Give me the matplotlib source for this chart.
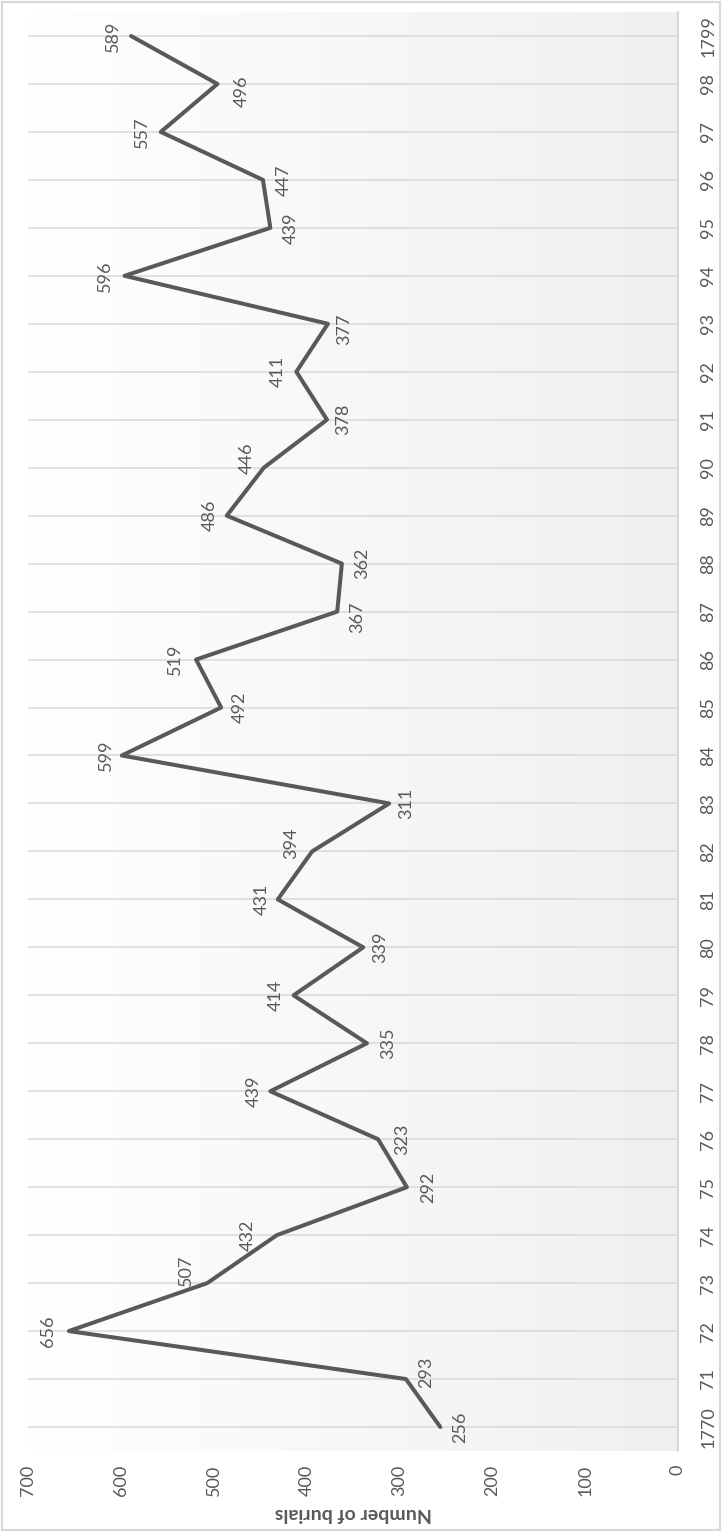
import numpy as np
import matplotlib
matplotlib.use("Agg")
import matplotlib.pyplot as plt
from matplotlib.patches import Rectangle

# ---- data ----
years = list(range(1770, 1800))
year_labels = ["1770"] + [f"{y % 100:02d}" for y in range(1771, 1799)] + ["1799"]
burials = [256, 293, 656, 507, 432, 292, 323, 439, 335, 414,
           339, 431, 394, 311, 599, 492, 519, 367, 362, 486,
           446, 378, 411, 377, 596, 439, 447, 557, 496, 589]
value_ticks = [0, 100, 200, 300, 400, 500, 600, 700]
axis_title = "Number of burials"

# ---- label placement (style): side of the point, horizontal distance and vertical nudge in px ----
label_side = ["R", "R", "L", "L", "L", "R", "R", "L", "R", "L",
              "R", "L", "L", "R", "L", "R", "L", "R", "R", "L",
              "L", "R", "L", "R", "L", "R", "R", "L", "R", "L"]
label_dist = [20, 20, 21, 21, 29, 21, 24, 17, 21, 18,
              17, 16, 21, 17, 16, 19, 21, 20, 20, 17,
              17, 16, 19, 16, 20, 20, 21, 19, 24, 18]
label_nudge = [0, -7, 0, -13, 0, 0, 0, 0, 0, 0,
               0, 0, -8, 0, 0, 0, 0, 6, 0, 0,
               -9, 0, 0, 5, 0, 0, 0, 0, 7, 0]

W, H = 722, 1531
DPI = 100
TXT = "#595959"
FS = 13
plt.rcParams['font.family'] = ['Lato', 'DejaVu Sans']

fig = plt.figure(figsize=(W / DPI, H / DPI), dpi=DPI)
fig.patch.set_facecolor("white")

# outer border
fig.patches.append(Rectangle((2 / W, 1 / H), (W - 4) / W, (H - 3) / H,
                             transform=fig.transFigure, fill=False,
                             edgecolor="#d9d9d9", linewidth=1.5))

left, right, top, bottom = 28, 678, 12, 1451
ax = fig.add_axes([left / W, 1 - bottom / H, (right - left) / W, (bottom - top) / H])

idx = np.arange(len(burials))
ax.set_xlim(700, 0)
ax.set_ylim(-0.5, len(burials) - 0.5)

# gradient background
grad = np.linspace(0, 1, 256)
cols = np.empty((1, 256, 3))
start = np.array([1.0, 1.0, 1.0])
end = np.array([0.94, 0.94, 0.94])
for k in range(3):
    cols[0, :, k] = start[k] + (end[k] - start[k]) * grad
ax.imshow(cols, extent=[700, 0, -0.5, len(burials) - 0.5], aspect="auto", zorder=0)

# gridlines at each category
for i in idx:
    ax.axhline(i, color="#d9d9d9", lw=1.1, zorder=1)

ax.plot(burials, idx, color="#595959", lw=2.9, solid_joinstyle="round",
        solid_capstyle="round", zorder=3)

for i, v in enumerate(burials):
    dx = label_dist[i] if label_side[i] == "R" else -label_dist[i]
    dy = label_nudge[i]
    ax.annotate(str(v), (v, i), xytext=(dx * 0.72, -dy * 0.72), textcoords="offset points",
                rotation=90, ha="center", va="center", fontsize=FS, color=TXT, zorder=4)

for s in ["top", "left", "bottom"]:
    ax.spines[s].set_visible(False)
ax.spines["right"].set_color("#d0d0d0")
ax.spines["right"].set_linewidth(1.2)

ax.set_xticks(value_ticks)
ax.set_xticklabels([str(t) for t in value_ticks], rotation=90, fontsize=FS, color=TXT)
ax.tick_params(axis="x", length=0, pad=10)
for lab in ax.get_xticklabels():
    lab.set_va("top")
    lab.set_ha("center")

ax.yaxis.tick_right()
ax.set_yticks(idx)
ax.set_yticklabels(year_labels, rotation=90, fontsize=FS, color=TXT)
ax.tick_params(axis="y", length=0, pad=16)
for lab in ax.get_yticklabels():
    lab.set_va("center")
    lab.set_ha("left")

fig.text(353 / W, 1 - 1514 / H, axis_title, rotation=180, ha="center", va="center",
         fontsize=14, fontweight="bold", color=TXT)

fig.savefig("out.png", dpi=DPI)
